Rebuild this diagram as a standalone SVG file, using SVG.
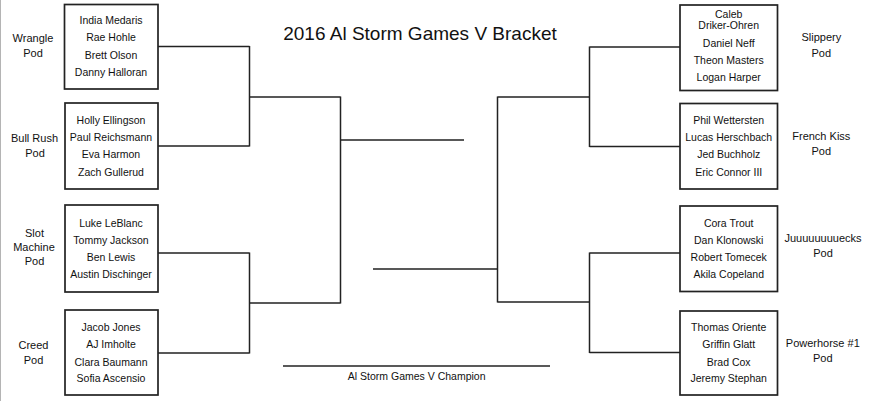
<svg xmlns="http://www.w3.org/2000/svg" width="871" height="401" viewBox="0 0 871 401">
<style>
.box{fill:#fff;stroke:#222;stroke-width:1.7}
.ln{fill:none;stroke:#222;stroke-width:1.5}
text{font-family:"Liberation Sans",Arial,sans-serif;fill:#111;text-anchor:middle}
.nm{font-size:10.5px}
.lb{font-size:11px}
.tt{font-size:19px}
</style>
<rect x="0" y="0" width="871" height="401" fill="#fff"/>
<rect x="0" y="0" width="1" height="401" fill="#b4b4b4"/>
<text class="tt" x="420" y="40">2016 Al Storm Games V Bracket</text>

<g id="connectors">
<path class="ln" d="M158,46.5H249.5M158,146H249.5M249.5,46V146.5M249.5,97H340.5M158,253H249.5M158,353H249.5M249.5,252.5V353.5M249.5,303H340.5M340.5,96.5V303.5M340.5,140H464"/>
<path class="ln" d="M373,269H497.5M497.5,96.5V302.5M497.5,97H589.5M497.5,302H589.5M589.5,46.5V147M589.5,47H680M589.5,146.5H680M589.5,252.5V353M589.5,253H680M589.5,352.5H680"/>
<path class="ln" d="M283,366H550"/>
</g>

<g id="left-1">
<rect class="box" x="64.5" y="4.5" width="93.5" height="84.5"/>
<text class="nm" x="111" y="24">India Medaris</text>
<text class="nm" x="111" y="41">Rae Hohle</text>
<text class="nm" x="111" y="58.5">Brett Olson</text>
<text class="nm" x="111" y="75.5">Danny Halloran</text>
<text class="lb" x="33" y="41.5">Wrangle</text>
<text class="lb" x="33" y="56.5">Pod</text>
</g>
<g id="left-2">
<rect class="box" x="65" y="103" width="93" height="86"/>
<text class="nm" x="111" y="123.5">Holly Ellingson</text>
<text class="nm" x="111" y="140.5">Paul Reichsmann</text>
<text class="nm" x="111" y="158">Eva Harmon</text>
<text class="nm" x="111" y="175.5">Zach Gullerud</text>
<text class="lb" x="34.5" y="141.5">Bull Rush</text>
<text class="lb" x="35" y="156.5">Pod</text>
</g>
<g id="left-3">
<rect class="box" x="65" y="205" width="93" height="87"/>
<text class="nm" x="111" y="227">Luke LeBlanc</text>
<text class="nm" x="111" y="244">Tommy Jackson</text>
<text class="nm" x="111" y="261">Ben Lewis</text>
<text class="nm" x="111" y="278">Austin Dischinger</text>
<text class="lb" x="34.5" y="236.5">Slot</text>
<text class="lb" x="34" y="250.5">Machine</text>
<text class="lb" x="34.5" y="265">Pod</text>
</g>
<g id="left-4">
<rect class="box" x="65" y="310" width="93" height="85"/>
<text class="nm" x="111" y="331">Jacob Jones</text>
<text class="nm" x="111" y="348">AJ Imholte</text>
<text class="nm" x="111" y="365.5">Clara Baumann</text>
<text class="nm" x="111" y="381.5">Sofia Ascensio</text>
<text class="lb" x="33.5" y="348.5">Creed</text>
<text class="lb" x="33.5" y="363.5">Pod</text>
</g>

<g id="right-1">
<rect class="box" x="680" y="5" width="97.5" height="85.5"/>
<text class="nm" x="728.7" y="18">Caleb</text>
<text class="nm" x="728.7" y="28.5">Driker-Ohren</text>
<text class="nm" x="728.7" y="46.7">Daniel Neff</text>
<text class="nm" x="728.7" y="64">Theon Masters</text>
<text class="nm" x="728.7" y="80.5">Logan Harper</text>
<text class="lb" x="821.3" y="41">Slippery</text>
<text class="lb" x="821.3" y="56.5">Pod</text>
</g>
<g id="right-2">
<rect class="box" x="680" y="103.5" width="97.5" height="85.5"/>
<text class="nm" x="728.7" y="123.5">Phil Wettersten</text>
<text class="nm" x="728.7" y="140.5">Lucas Herschbach</text>
<text class="nm" x="728.7" y="158">Jed Buchholz</text>
<text class="nm" x="728.7" y="175.5">Eric Connor III</text>
<text class="lb" x="821.3" y="140">French Kiss</text>
<text class="lb" x="821.3" y="155">Pod</text>
</g>
<g id="right-3">
<rect class="box" x="680" y="206" width="97.5" height="85.5"/>
<text class="nm" x="728.7" y="227.3">Cora Trout</text>
<text class="nm" x="728.7" y="244.3">Dan Klonowski</text>
<text class="nm" x="728.7" y="261">Robert Tomecek</text>
<text class="nm" x="728.7" y="278.3">Akila Copeland</text>
<text class="lb" x="823" y="241.5">Juuuuuuuuecks</text>
<text class="lb" x="823" y="256.5">Pod</text>
</g>
<g id="right-4">
<rect class="box" x="680" y="311" width="97.5" height="84"/>
<text class="nm" x="728.7" y="331">Thomas Oriente</text>
<text class="nm" x="728.7" y="348">Griffin Glatt</text>
<text class="nm" x="728.7" y="365.5">Brad Cox</text>
<text class="nm" x="728.7" y="382">Jeremy Stephan</text>
<text class="lb" x="822.8" y="346.5">Powerhorse #1</text>
<text class="lb" x="822.8" y="361.5">Pod</text>
</g>

<text class="nm" x="416.7" y="380">Al Storm Games V Champion</text>
</svg>
